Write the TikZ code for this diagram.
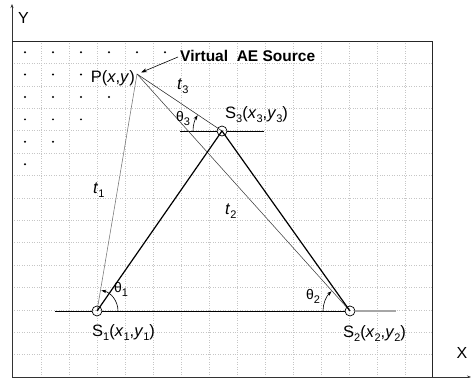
\documentclass[tikz,border=0pt]{standalone}
\usepackage{fontspec}
\setmainfont{Liberation Sans}
\usetikzlibrary{arrows.meta}
\newcommand{\sbx}[1]{\raisebox{-4pt}{\fontsize{11}{11}\selectfont #1}}
\begin{document}
\begin{tikzpicture}[x=1pt,y=1pt,
  gridline/.style={gray!45, dotted, line width=0.45pt},
  dotpt/.style={circle, fill=black, inner sep=0pt, minimum size=2.2pt},
  sensor/.style={circle, draw=black, line width=0.7pt, minimum size=10pt, inner sep=0pt},
  lbl/.style={inner sep=0pt, anchor=base west, font=\fontsize{16.5}{18}\selectfont},
  axisline/.style={black!80, line width=0.8pt},
  frameline/.style={black!85, line width=0.9pt},
  thick line/.style={black, line width=1.2pt},
  ray/.style={black!75, line width=0.55pt},
  arcarrow/.style={black, line width=0.6pt, -{Stealth[length=5pt,width=3.5pt]}},
]
\useasboundingbox (0,0) rectangle (472,378);
% grid
\foreach \k in {0,...,13} \draw[gridline] ({41+28*\k},1) -- ({41+28*\k},337);
\foreach \k in {1,...,14} \draw[gridline] (12,{337-22.4*\k}) -- (432,{337-22.4*\k});
% dots
\foreach \n/\c in {0/5,1/2,2/3,3/2,4/1,5/0}
  \foreach \i in {0,...,\c}
    \node[dotpt] at ({25+28*\i},{325.8-22.4*\n}) {};
% axes and frame
\coordinate (O) at (12,1);
\coordinate (Ytop) at (12,374);
\coordinate (Xend) at (471,1);
\draw[axisline, -{Stealth[length=4pt,width=3pt]}] (O) -- (Ytop);
\draw[axisline, -{Stealth[length=4pt,width=3pt]}] (O) -- (Xend);
\coordinate (FTL) at (12,337);
\coordinate (FTR) at (432,337);
\coordinate (FBR) at (432,1);
\draw[frameline] (FTL) -- (FTR) -- (FBR);
\node[inner sep=0pt, font=\fontsize{16}{18}\selectfont] (ylab) at (23.5,360.5) {Y};
\node[inner sep=0pt, font=\fontsize{16}{18}\selectfont] (xlab) at (462,25) {X};
% points
\coordinate (P) at (137,304);
\node[sensor] (S1) at (97,67) {};
\node[sensor] (S2) at (350,67) {};
\node[sensor] (S3) at (222,247) {};
% baselines
\coordinate (B1) at (55,67);
\coordinate (B3) at (396,67);
\draw[black, line width=0.9pt] (B1) -- (S1) -- (S2);
\draw[gray!70, line width=1.1pt] (S2) -- (B3);
\coordinate (H1) at (180,247);
\coordinate (H2) at (264,247);
\draw[black, line width=0.9pt] (H1) -- (S3) -- (H2);
% rays from P
\draw[ray, black!55] (P) -- (S1.center);
\draw[ray] (P) -- (S2.center);
\draw[ray, black!85] (P) -- (S3.center);
% sensor triangle
\draw[thick line] (S1.center) -- (S3.center) -- (S2.center);
% angle arcs
\draw[arcarrow] ([shift={(0:21)}]S1.center) arc[start angle=0,end angle=78,radius=21];
\draw[arcarrow] ([shift={(180:27)}]S2.center) arc[start angle=180,end angle=133,radius=27];
\draw[arcarrow] ([shift={(180:29)}]S3.center) arc[start angle=180,end angle=147,radius=29];
% source label and arrow
\node[lbl, font=\bfseries\fontsize{15.5}{18}\selectfont] (vs) at (180,316) {Virtual\ \ AE Source};
\coordinate (vsa) at (178,321);
\coordinate (Pa) at (141,305.5);
\draw[black, line width=0.6pt, -{Stealth[length=6pt,width=4pt]}] (vsa) -- (Pa);
% labels
\node[lbl, anchor=base east] (Plab) at (135,295) {P(\textit{x},\textit{y})};
\node[lbl] (t3) at (177,288) {\textit{t}\sbx{3}};
\node[lbl] (t1) at (93,184) {\textit{t}\sbx{1}};
\node[lbl] (t2) at (225,163) {\textit{t}\sbx{2}};
\node[lbl, font=\fontsize{14}{16}\selectfont] (th3) at (176,256) {θ\sbx{3}};
\node[lbl, font=\fontsize{14}{16}\selectfont] (th1) at (114,85) {θ\sbx{1}};
\node[lbl, font=\fontsize{14}{16}\selectfont] (th2) at (306,78) {θ\sbx{2}};
\node[lbl] (S1lab) at (92,41) {S\sbx{1}(\textit{x}\sbx{1},\textit{y}\sbx{1})};
\node[lbl] (S2lab) at (343,40) {S\sbx{2}(\textit{x}\sbx{2},\textit{y}\sbx{2})};
\node[lbl] (S3lab) at (225,259) {S\sbx{3}(\textit{x}\sbx{3},\textit{y}\sbx{3})};
\end{tikzpicture}
\end{document}
